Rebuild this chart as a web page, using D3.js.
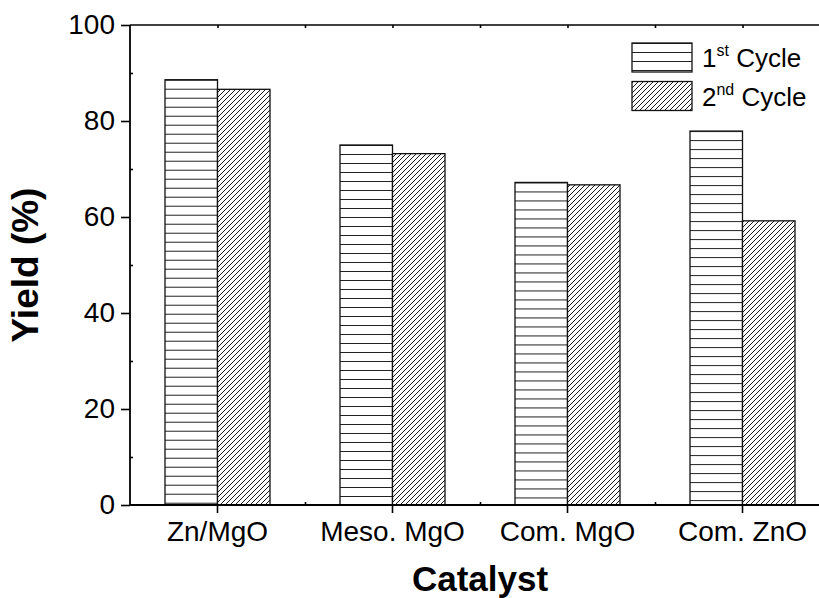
<!DOCTYPE html>
<html>
<head>
<meta charset="utf-8">
<script src="https://cdn.jsdelivr.net/npm/d3@7"></script>
<style>
  html, body { margin: 0; padding: 0; background: #fff; }
  svg { display: block; font-family: "Liberation Sans", Arial, sans-serif; }
</style>
</head>
<body>
<svg id="chart" width="819" height="598"></svg>
<script>
// ---- data ----
const categories = ["Zn/MgO", "Meso. MgO", "Com. MgO", "Com. ZnO"];
const cycle1 = [88.6, 75.0, 67.2, 77.9];
const cycle2 = [86.6, 73.2, 66.7, 59.2];
const seriesNames = ["1st Cycle", "2nd Cycle"];
const yTicks = [0, 20, 40, 60, 80, 100];
const yMinorTicks = [10, 30, 50, 70, 90];

// ---- layout ----
const svg = d3.select("#chart");
const pLeft = 130, pRight = 830, pTop = 25, pBottom = 505;

const x = d3.scaleBand().domain(categories).range([pLeft, pRight])
  .paddingInner(0.4).paddingOuter(0.2);
const xSub = d3.scaleBand().domain([0, 1]).range([0, x.bandwidth()]).padding(0);
const xLin = d3.scaleLinear().domain([0.5, categories.length + 0.5]).range([pLeft, pRight]);
const y = d3.scaleLinear().domain([0, 100]).range([pBottom, pTop]);

const defs = svg.append("defs");
// diagonal hatch
const hatch = defs.append("pattern").attr("id", "hatch")
  .attr("patternUnits", "userSpaceOnUse").attr("width", 5).attr("height", 5);
hatch.append("rect").attr("width", 5).attr("height", 5).attr("fill", "#fff");
hatch.append("path").attr("d", "M0,5 L5,0 M-1,1 L1,-1 M4,6 L6,4")
  .attr("stroke", "#1a1a1a").attr("stroke-width", 1);

function stripePattern(id, y0) {
  const p = defs.append("pattern").attr("id", id)
    .attr("patternUnits", "userSpaceOnUse")
    .attr("x", 0).attr("y", y0).attr("width", 10).attr("height", 9);
  p.append("rect").attr("width", 10).attr("height", 9).attr("fill", "#fff");
  p.append("line").attr("x1", 0).attr("x2", 10).attr("y1", 0.5).attr("y2", 0.5)
    .attr("stroke", "#222").attr("stroke-width", 1);
  return "url(#" + id + ")";
}

const data = categories.map((c, i) => ({ cat: c, vals: [cycle1[i], cycle2[i]] }));

const g = svg.append("g");
data.forEach((d, i) => {
  d.vals.forEach((v, k) => {
    const fill = k === 0 ? stripePattern("stripe" + i, y(v)) : "url(#hatch)";
    g.append("rect")
      .attr("x", x(d.cat) + xSub(k))
      .attr("y", y(v))
      .attr("width", xSub.bandwidth())
      .attr("height", y(0) - y(v))
      .attr("fill", fill)
      .attr("stroke", "#111").attr("stroke-width", 1.3);
  });
});

// ---- axes ----
const tickFont = 28;
function styleAxis(sel) {
  sel.select(".domain").remove();
  sel.selectAll(".tick line").attr("stroke", "#000").attr("stroke-width", 1.6);
  sel.selectAll(".tick text").attr("font-size", tickFont).attr("fill", "#000")
    .attr("font-family", "'Liberation Sans', Arial, sans-serif");
}

svg.append("g").attr("transform", `translate(${pLeft},0)`)
  .call(d3.axisLeft(y).tickValues(yTicks).tickSize(9).tickPadding(6))
  .call(styleAxis);
svg.append("g").attr("transform", `translate(${pLeft},0)`)
  .call(d3.axisLeft(y).tickValues(yMinorTicks).tickSize(-3).tickFormat(""))
  .call(styleAxis);
svg.append("g").attr("transform", `translate(0,${pBottom})`)
  .call(d3.axisBottom(x).tickSize(8).tickPadding(8))
  .call(styleAxis);
svg.append("g").attr("transform", `translate(0,${pBottom})`)
  .call(d3.axisBottom(xLin).tickValues([1.5, 2.5, 3.5, 4.5]).tickSize(-3).tickFormat(""))
  .call(styleAxis);
svg.append("g").attr("transform", `translate(0,${pTop})`)
  .call(d3.axisTop(xLin).tickValues([1, 1.5, 2, 2.5, 3, 3.5, 4, 4.5]).tickSize(-3).tickFormat(""))
  .call(styleAxis);

// frame lines
svg.append("line").attr("x1", pLeft).attr("x2", pRight).attr("y1", pTop).attr("y2", pTop)
  .attr("stroke", "#000").attr("stroke-width", 1.6);
svg.append("line").attr("x1", pLeft).attr("x2", pRight).attr("y1", pBottom).attr("y2", pBottom)
  .attr("stroke", "#000").attr("stroke-width", 1.8);
svg.append("line").attr("x1", pLeft).attr("x2", pLeft).attr("y1", pTop).attr("y2", pBottom)
  .attr("stroke", "#000").attr("stroke-width", 1.8);
svg.append("line").attr("x1", pRight).attr("x2", pRight).attr("y1", pTop).attr("y2", pBottom)
  .attr("stroke", "#000").attr("stroke-width", 1.6);

// axis titles
svg.append("text").attr("x", (pLeft + pRight) / 2).attr("y", 591)
  .attr("text-anchor", "middle").attr("font-weight", "bold").attr("font-size", 35)
  .text("Catalyst");
svg.append("text")
  .attr("transform", `translate(38,${(pTop + pBottom) / 2}) rotate(-90)`)
  .attr("text-anchor", "middle").attr("font-weight", "bold").attr("font-size", 37)
  .text("Yield (%)");

// ---- legend ----
const legend = svg.append("g");
const lgX = 632, lgY0 = 43, lgStep = 38.5, boxW = 60, boxH = 29;
const legendParts = [["1", "st", " Cycle"], ["2", "nd", " Cycle"]];
seriesNames.forEach((name, k) => {
  const yy = lgY0 + k * lgStep;
  const fill = k === 0 ? stripePattern("stripeLeg", yy) : "url(#hatch)";
  legend.append("rect").attr("x", lgX).attr("y", yy).attr("width", boxW).attr("height", boxH)
    .attr("fill", fill).attr("stroke", "#111").attr("stroke-width", 1.3);
  const parts = legendParts[k];
  const t = legend.append("text").attr("x", lgX + 70).attr("y", yy + 24)
    .attr("font-size", 26).attr("fill", "#000");
  t.append("tspan").text(parts[0]);
  t.append("tspan").attr("font-size", 16).attr("dy", -11).text(parts[1]);
  t.append("tspan").attr("dy", 11).text(parts[2]);
});
</script>
</body>
</html>
